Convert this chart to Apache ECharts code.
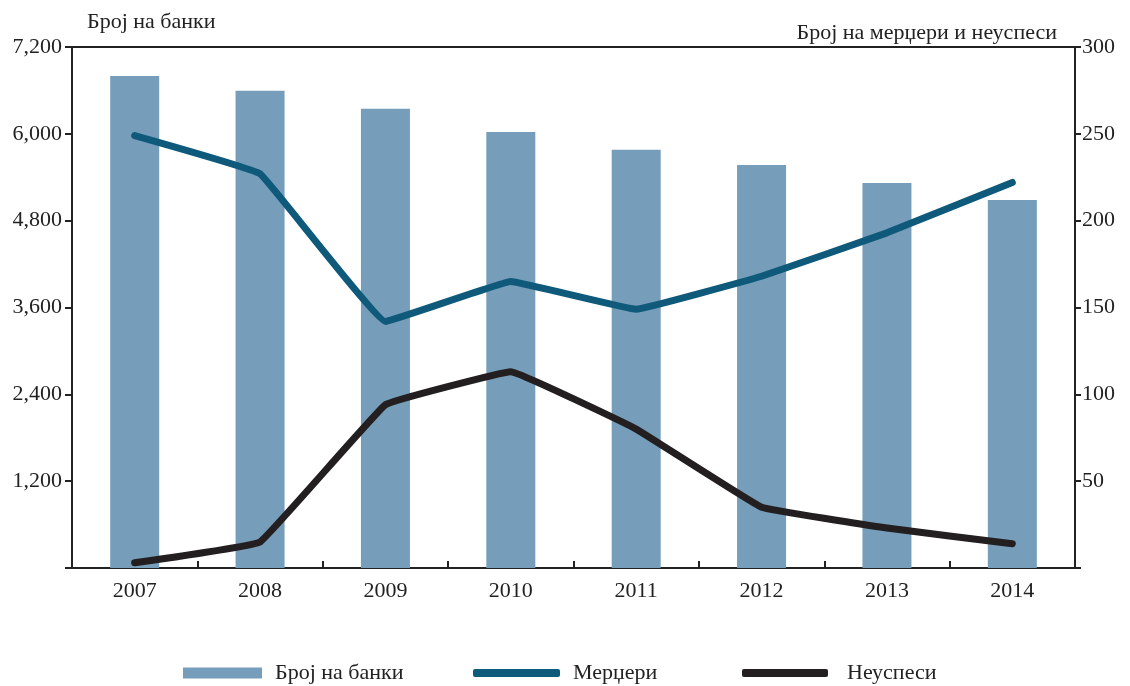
<!DOCTYPE html>
<html>
<head>
<meta charset="utf-8">
<script src="https://cdn.jsdelivr.net/npm/echarts@6/dist/echarts.min.js"></script>
<style>
  html, body { margin: 0; padding: 0; background: #fff; }
  #chart { width: 1130px; height: 686px; }
</style>
</head>
<body>
<div id="chart"></div>
<script>
// Years on the category axis
const years = ['2007', '2008', '2009', '2010', '2011', '2012', '2013', '2014'];
// Number of banks (left axis)
const banks = [6800, 6595, 6345, 6025, 5780, 5570, 5320, 5085];
// Mergers (right axis)
const mergers = [249, 227, 142, 165, 149, 168, 193, 222];
// Failures (right axis)
const failures = [3, 15, 94, 113, 80, 35, 23, 14];

// Axis ranges and tick spacing
const leftMax = 7200, leftStep = 1200;
const rightMax = 300, rightStep = 50;

const FONT = '"Liberation Serif", "DejaVu Serif", serif';
const INK = '#222';
const BAR = '#769db9';
const MERGE = '#0f5a7b';
const FAIL = '#231f20';

const chart = echarts.init(document.getElementById('chart'), null, { renderer: 'canvas' });

const legendText = { fontFamily: FONT, fontSize: 22, color: INK, padding: [0, 0, 0, 8] };

chart.setOption({
  animation: false,
  backgroundColor: '#fff',
  textStyle: { fontFamily: FONT },
  grid: {
    left: 72, right: 55, top: 47, bottom: 118,
    show: true, borderColor: '#222', borderWidth: 2, backgroundColor: 'transparent'
  },
  title: [
    { text: 'Број на банки', left: 82, top: 6,
      textStyle: { fontFamily: FONT, fontSize: 22, fontWeight: 'normal', color: INK } },
    { text: 'Број на мерџери и неуспеси', right: 68, top: 17,
      textStyle: { fontFamily: FONT, fontSize: 22, fontWeight: 'normal', color: INK } }
  ],
  legend: [
    { data: ['Број на банки'], left: 178, top: 657, itemWidth: 79, itemHeight: 11,
      icon: 'rect', textStyle: legendText },
    { data: [{ name: 'Мерџери', icon: 'roundRect' }], left: 468, top: 657, itemWidth: 87, itemHeight: 8,
      textStyle: legendText },
    { data: [{ name: 'Неуспеси', icon: 'roundRect' }], left: 737, top: 657, itemWidth: 86, itemHeight: 8,
      textStyle: Object.assign({}, legendText, { padding: [0, 0, 0, 14] }) }
  ],
  xAxis: {
    type: 'category',
    data: years,
    boundaryGap: true,
    axisLine: { lineStyle: { color: '#222', width: 2 } },
    axisTick: { show: true, inside: true, length: 7, alignWithLabel: false,
      lineStyle: { color: '#222', width: 2 } },
    axisLabel: { fontFamily: FONT, fontSize: 22, color: INK, margin: 12 },
    splitLine: { show: false }
  },
  yAxis: [
    {
      type: 'value', min: 0, max: leftMax, interval: leftStep,
      axisLine: { show: true, lineStyle: { color: '#222', width: 2 } },
      axisTick: { show: true, length: 7, lineStyle: { color: '#222', width: 2 } },
      axisLabel: {
        fontFamily: FONT, fontSize: 22, color: INK, margin: 10,
        formatter: v => v === 0 ? '' : v.toLocaleString('en-US')
      },
      splitLine: { show: false }
    },
    {
      type: 'value', min: 0, max: rightMax, interval: rightStep, position: 'right',
      axisLine: { show: true, lineStyle: { color: '#222', width: 2 } },
      axisTick: { show: true, length: 6, lineStyle: { color: '#222', width: 2 } },
      axisLabel: {
        fontFamily: FONT, fontSize: 22, color: INK, margin: 7,
        formatter: v => v === 0 ? '' : String(v)
      },
      splitLine: { show: false }
    }
  ],
  series: [
    {
      name: 'Број на банки', type: 'bar', yAxisIndex: 0,
      data: banks, barWidth: 49,
      itemStyle: { color: BAR }
    },
    {
      name: 'Мерџери', type: 'line', yAxisIndex: 1,
      data: mergers, smooth: 0.06, showSymbol: false, symbol: 'none',
      lineStyle: { color: MERGE, width: 7, cap: 'round', join: 'round' },
      itemStyle: { color: MERGE }
    },
    {
      name: 'Неуспеси', type: 'line', yAxisIndex: 1,
      data: failures, smooth: 0.06, showSymbol: false, symbol: 'none',
      lineStyle: { color: FAIL, width: 7, cap: 'round', join: 'round' },
      itemStyle: { color: FAIL }
    }
  ]
});
</script>
</body>
</html>
